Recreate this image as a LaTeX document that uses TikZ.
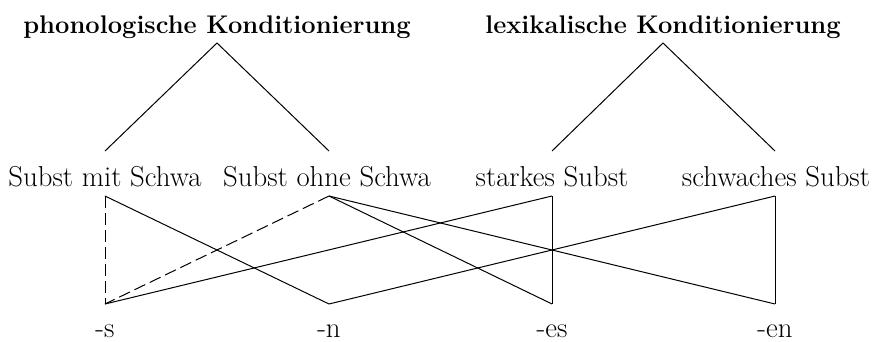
\documentclass[tikz,border=0pt]{standalone}
\usepackage{fontspec}
\usetikzlibrary{calc}
\begin{document}
\begin{tikzpicture}[x=1pt,y=1pt,
  title/.style={font=\bfseries\fontsize{25.5}{30}\selectfont, anchor=base, inner sep=0pt},
  lab/.style={font=\fontsize{28.8}{32}\selectfont, anchor=base, inner sep=0pt},
  conn/.style={line width=1pt},
  dconn/.style={line width=1pt, dash pattern=on 12pt off 5pt}]
\useasboundingbox (0,0) rectangle (880,341);
% titles
\node[title] (pk) at (217,308) {phonologische Konditionierung};
\node[title] (lk) at (663,308) {lexikalische Konditionierung};
% middle row
\node[lab] (mit) at (105,155) {Subst mit Schwa};
\node[lab] (ohne) at (327,155) {Subst ohne Schwa};
\node[lab] (stark) at (552,155) {starkes Subst};
\node[lab] (schwach) at (776,155) {schwaches Subst};
% bottom row
\node[lab] (s) at (105,4) {-s};
\node[lab] (n) at (329,4) {-n};
\node[lab] (es) at (552,4) {-es};
\node[lab] (en) at (775,4) {-en};
% anchor points
\coordinate (pkA) at ($(pk.base)+(0,-10)$);
\coordinate (lkA) at ($(lk.base)+(0,-10)$);
\coordinate (mitT) at ($(mit.base)+(0,35)$);
\coordinate (mitB) at ($(mit.base)+(0,-10)$);
\coordinate (ohneT) at ($(ohne.base)+(2,35)$);
\coordinate (ohneB) at ($(ohne.base)+(2,-10)$);
\coordinate (starkT) at ($(stark.base)+(0,35)$);
\coordinate (starkB) at ($(stark.base)+(0,-10)$);
\coordinate (schwachT) at ($(schwach.base)+(-1,35)$);
\coordinate (schwachB) at ($(schwach.base)+(-1,-10)$);
\foreach \v in {s,n,es,en}{
  \coordinate (\v T) at ($(\v.base)+(0,33)$);
}
% trees
\draw[conn] (mitT) -- (pkA) -- (ohneT);
\draw[conn] (starkT) -- (lkA) -- (schwachT);
% mappings
\draw[dconn] (mitB) -- (sT);
\draw[conn] (mitB) -- (nT);
\draw[dconn] (ohneB) -- (sT);
\draw[conn] (ohneB) -- (esT);
\draw[conn] (ohneB) -- (enT);
\draw[conn] (starkB) -- (sT);
\draw[conn] (starkB) -- (esT);
\draw[conn] (schwachB) -- (nT);
\draw[conn] (schwachB) -- (enT);
\end{tikzpicture}
\end{document}
